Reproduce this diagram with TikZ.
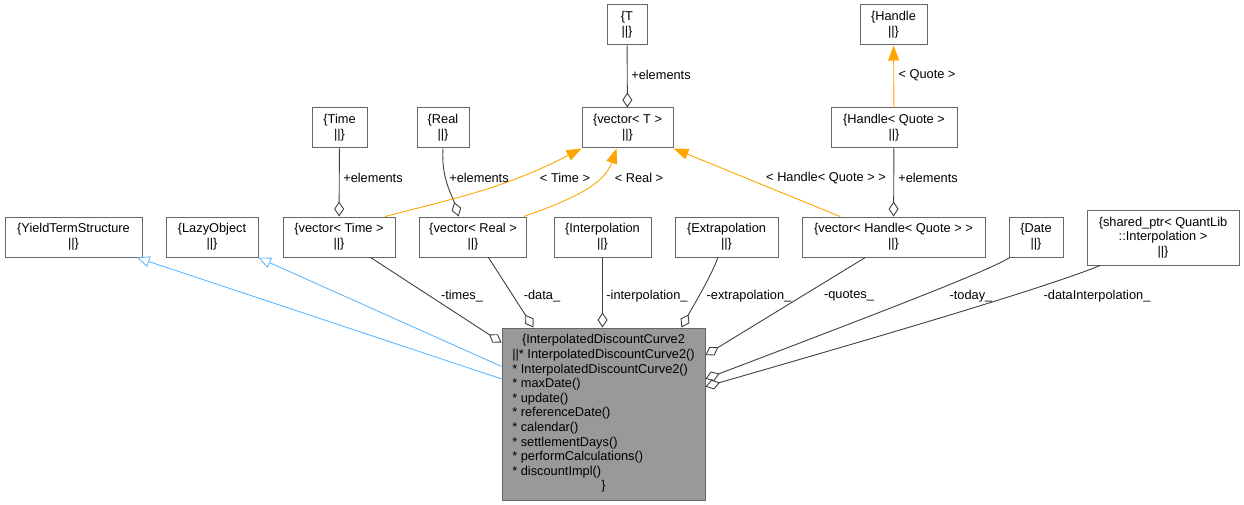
\documentclass[tikz,border=0pt]{standalone}
\usepackage{fontspec}
\setmainfont{Liberation Sans}
\usetikzlibrary{arrows.meta,positioning}
\definecolor{edgegray}{HTML}{404040}
\definecolor{boxgray}{HTML}{666666}
\definecolor{inhblue}{HTML}{63B8FF}
\definecolor{tmplorange}{HTML}{FFA500}
\definecolor{mainfill}{HTML}{999999}

\begin{document}
\begin{tikzpicture}[x=1pt, y=-1pt, font=\fontsize{12.8}{14.6}\selectfont,
  cls/.style={draw=boxgray, line width=1pt, fill=white, align=center, inner sep=0pt, minimum height=40pt},
  lbl/.style={inner sep=0pt},
  aggr/.style={draw=edgegray, line width=0.9pt, -{Diamond[open, length=15pt, width=10pt]}},
  inh/.style={draw=inhblue, line width=0.9pt, -{Triangle[open, length=13pt, width=11pt]}},
  tmpl/.style={draw=tmplorange, line width=0.9pt, -{Triangle[length=15pt, width=11pt]}}]
  \useasboundingbox (0,0) rectangle (1244,505);
  % class boxes
  \foreach \nm/\px/\py/\bw/\txt in {
      T/627/25/40/T, handle/893.5/25/67/Handle,
      time/339.5/128/55/Time, real/443/128/52/Real,
      vT/627.5/128/91/vector< T >, hquote/894/128/126/Handle< Quote >,
      yts/73.5/237/137/YieldTermStructure, lazy/212/237/92/LazyObject,
      vtime/339/237/112/vector< Time >, vreal/473/237/107/vector< Real >,
      interp/602.5/237/97/Interpolation, extrap/726.5/237/103/Extrapolation,
      vquote/893.5/237/183/vector< Handle< Quote > >, date/1036/237/54/Date} {
    \node[cls, minimum width=\bw] (\nm) at (\px,\py) {\{\txt\\||\}};
  }
  \node[cls, minimum width=152, minimum height=55] (sptr) at (1163,237.5)
    {\{shared\_ptr< QuantLib\\::Interpolation >\\||\}};
  \node[cls, fill=mainfill, minimum width=203, minimum height=172] (curve) at (603.5,414)
    {\begin{tabular}{@{}l@{}}
      \multicolumn{1}{@{}c@{}}{\{InterpolatedDiscountCurve2}\\
      ||* InterpolatedDiscountCurve2()\\
      {*} InterpolatedDiscountCurve2()\\
      {*} maxDate()\\
      {*} update()\\
      {*} referenceDate()\\
      {*} calendar()\\
      {*} settlementDays()\\
      {*} performCalculations()\\
      {*} discountImpl()\\
      \multicolumn{1}{@{}c@{}}{\}}
    \end{tabular}};
  % inheritance
  \draw[inh] (curve.161) -- (yts.-18);
  \draw[inh] (curve.155) -- (lazy.-24);
  % members
  \draw[aggr] (vtime.-33) -- (curve.145);
  \draw[aggr] (vreal.-53) -- (curve.129);
  \draw[aggr] (interp.south) -- (interp.south |- curve.north);
  \draw[aggr] (extrap.-113) .. controls (712,275) and (692,308) .. (curve.48);
  \draw[aggr] (vquote.-144) -- (curve.30);
  \draw[aggr] (date.-142) .. controls (990,270) and (900,305) .. (curve.19);
  \draw[aggr] (sptr.-156) .. controls (1040,290) and (850,345) .. (curve.15);
  \draw[aggr] (T) -- (vT);
  \draw[aggr] (time) -- (vtime);
  \draw[aggr] (real.south) .. controls (441,178) and (452,195) .. (vreal.125);
  \draw[aggr] (hquote) -- (vquote);
  % template instances
  \draw[tmpl] (vtime.24) .. controls (460,197) and (505,188) .. (vT.-156);
  \draw[tmpl] (vreal.22) .. controls (580,197) and (605,182) .. (vT.-118);
  \draw[tmpl] (vquote.159) -- (vT.-24);
  \draw[tmpl] (hquote) -- (handle);
  % edge labels
  \node[lbl] (lT) at (661,75) {+elements};
  \node[lbl] (lquote) at (927,75) {< Quote >};
  \node[lbl] (ltime) at (373,178) {+elements};
  \node[lbl] (lreal) at (479,178) {+elements};
  \node[lbl] (lhquote) at (928,178) {+elements};
  \node[lbl] (ltmtime) at (565,178) {< Time >};
  \node[lbl] (ltmreal) at (639,178) {< Real >};
  \node[lbl] (ltmquote) at (826,178) {< Handle< Quote > >};
  \node[lbl] (ltimes) at (462,296) {-times\_};
  \node[lbl] (ldata) at (542,296) {-data\_};
  \node[lbl] (linterp) at (647,296) {-interpolation\_};
  \node[lbl] (lextrap) at (749,296) {-extrapolation\_};
  \node[lbl] (lquotes) at (849,296) {-quotes\_};
  \node[lbl] (ltoday) at (971,296) {-today\_};
  \node[lbl] (ldatainterp) at (1097,296) {-dataInterpolation\_};
\end{tikzpicture}
\end{document}
